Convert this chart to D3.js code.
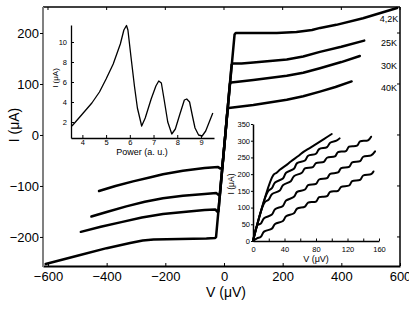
<!DOCTYPE html>
<html><head><meta charset="utf-8">
<script src="https://cdn.jsdelivr.net/npm/d3@7"></script>
<style>
body{margin:0;background:#fff;}
svg{display:block;font-family:"Liberation Sans",Arial,sans-serif;}
</style></head><body>
<svg id="c" width="409" height="315"></svg>
<script>
// ---------- Main I-V curves (V in µV, I in µA) ----------
const curve42K = [[-608,-253],[-500,-237],[-400,-222],[-320,-212],[-277,-207],[-240,-205],[-150,-204],[-60,-203],[-30,-202],[-27,-200],[4.5,0],[36,197],[40,200],[100,200],[180,200],[247,202],[300,206],[328,210],[383,216],[474,229],[590,249]];
const curve25K = [[-488,-190],[-420,-180],[-350,-171],[-280,-162],[-208,-155],[-120,-150],[-66,-147],[-30,-146],[-22,-151],[-19,-150],[4.5,0],[26,138],[30,140],[60,140],[100,142],[214,148],[270,154],[327,163],[400,173],[478,185]];
const curve30K = [[-452,-160],[-400,-151],[-333,-140],[-270,-131],[-208,-124],[-140,-119],[-66,-116],[-26,-114],[-18,-118],[-14,-115],[4.5,0],[20,100],[24,103],[40,104],[100,108],[214,116],[270,122],[327,131],[400,143],[463,155]];
const curve40K = [[-426,-110],[-370,-100],[-310,-91],[-250,-83],[-208,-77],[-140,-70],[-66,-65],[-20,-63],[-12,-66],[-6,-65],[4.5,0],[12,50],[16,53],[30,54],[100,59],[214,69],[270,76],[327,85],[380,94],[435,105]];
const mainSeries = [curve42K, curve25K, curve30K, curve40K];
const tempLabels = ["4,2K","25K","30K","40K"];
const tempLabelI = [222, 174, 130, 87];
const mainXTicks = [-600,-400,-200,0,200,400,600];
const mainYTicks = [-200,-100,0,100,200];

// ---------- Inset 1: I vs Power ----------
const powerVals = [3.56,4.0,4.4,4.72,5.0,5.3,5.6,5.75,5.86,5.92,6.05,6.2,6.32,6.5,6.65,6.9,7.1,7.22,7.33,7.45,7.6,7.77,7.92,8.1,8.3,8.4,8.52,8.65,8.75,8.9,9.05,9.2,9.35,9.5];
const powerI   = [1.6,2.8,3.9,5.0,6.3,7.8,9.8,11.2,11.65,11.2,8.5,5.5,3.4,1.6,2.4,4.3,5.6,6.1,5.9,4.2,2.0,0.8,1.3,2.7,4.2,4.3,4.0,2.5,1.4,0.7,0.6,1.1,2.0,2.9];
const inset1XTicks = [4,5,6,7,8,9];
const inset1YTicks = [2,4,6,8,10];

// ---------- Inset 2: low-voltage I-V with steps ----------
const step1 = [[0,0],[26,198],[30,204],[34,213],[44,230],[48,238],[58,255],[62,263],[72,278],[76,284],[86,299],[90,305],[100,320]];
const step2 = [[0,0],[19,148],[24,158],[28,175],[38,187],[42,204],[52,216],[56,233],[66,241],[70,255],[80,261],[84,275],[94,281],[98,294],[106,300],[110,307]];
const step3 = [[0,0],[15,116],[20,124],[24,140],[34,151],[38,167],[48,179],[52,194],[62,204],[66,217],[76,221],[80,233],[90,237],[94,249],[104,253],[108,266],[118,269],[122,282],[132,285],[136,298],[146,301],[150,312]];
const step4 = [[0,0],[6,48],[10,52],[14,68],[24,79],[28,95],[38,105],[42,121],[52,132],[56,147],[66,154],[70,167],[80,171],[84,184],[94,188],[98,201],[108,205],[112,218],[122,222],[126,235],[136,239],[140,252],[150,256],[155,268]];
const step5 = [[0,0],[5,8],[10,13],[14,28],[24,37],[28,51],[38,60],[42,74],[52,83],[56,97],[66,103],[70,115],[80,118],[84,131],[94,134],[98,147],[108,150],[112,162],[122,166],[126,179],[136,183],[140,196],[150,200],[153,208]];
const stepSeries = [step1, step2, step3, step4, step5];
const inset2XTicks = [0,20,40,60,80,100,120,140,160];
const inset2XLabels = [0,40,80,120,160];
const inset2YTicks = [0,50,100,150,200,250,300,350];

const svg = d3.select("#c");

// ===== Main plot =====
const x = d3.scaleLinear().domain([-617,600]).range([43,400]);
const y = d3.scaleLinear().domain([-257,251]).range([266,7]);

svg.append("line").attr("x1",43).attr("x2",400).attr("y1",7).attr("y2",7).attr("stroke","#000").attr("stroke-width",1.3);
svg.append("line").attr("x1",400).attr("x2",400).attr("y1",7).attr("y2",266).attr("stroke","#000").attr("stroke-width",1.5);
svg.append("g").selectAll("line").data(mainXTicks).join("line")
  .attr("x1",d=>x(d)).attr("x2",d=>x(d)).attr("y1",7).attr("y2",10).attr("stroke","#000").attr("stroke-width",1);
svg.append("g").selectAll("line").data(mainYTicks).join("line")
  .attr("x1",397).attr("x2",400).attr("y1",d=>y(d)).attr("y2",d=>y(d)).attr("stroke","#000").attr("stroke-width",1);

const xAxis = svg.append("g").attr("transform","translate(0,266)")
  .call(d3.axisBottom(x).tickValues(mainXTicks).tickSizeInner(-3).tickSizeOuter(0).tickPadding(6));
xAxis.select(".domain").attr("stroke","#000").attr("stroke-width",2);
xAxis.selectAll(".tick line").attr("stroke","#000");
xAxis.selectAll("text").attr("font-size",13).attr("fill","#000");

const yAxis = svg.append("g").attr("transform","translate(43,0)")
  .call(d3.axisLeft(y).tickValues(mainYTicks).tickSizeInner(3).tickSizeOuter(0).tickPadding(1));
yAxis.select(".domain").attr("stroke","#808080").attr("stroke-width",2).attr("d","M0,7V267");
yAxis.selectAll(".tick line").attr("stroke","#000");
yAxis.selectAll("text").attr("font-size",13).attr("fill","#000");

svg.append("text").attr("transform","translate(19,125) rotate(-90)").attr("text-anchor","middle")
  .attr("font-size",14).text("I (μA)");
svg.append("text").attr("x",226).attr("y",297).attr("text-anchor","middle").attr("font-size",14).text("V (μV)");

const mainLine = d3.line().x(d=>x(d[0])).y(d=>y(d[1]));
svg.append("g").selectAll("path").data(mainSeries).join("path")
  .attr("d",mainLine).attr("fill","none").attr("stroke","#000").attr("stroke-width",2.5)
  .attr("stroke-linejoin","round").attr("stroke-linecap","round");

svg.append("g").selectAll("text").data(tempLabels).join("text")
  .attr("x",389).attr("y",(d,i)=>y(tempLabelI[i])).attr("text-anchor","middle")
  .attr("font-size",9).text(d=>d);

// ===== Inset 1 =====
const x1 = d3.scaleLinear().domain([3.52,9.55]).range([71,214]);
const y1 = d3.scaleLinear().domain([0.4,11.7]).range([138,25]);
const ax1 = svg.append("g").attr("transform","translate(0,138)")
  .call(d3.axisBottom(x1).tickValues(inset1XTicks).tickFormat(d3.format("d")).tickSizeInner(-3).tickSizeOuter(0).tickPadding(2));
ax1.select(".domain").attr("stroke","#000").attr("stroke-width",1.3);
ax1.selectAll("text").attr("font-size",7.5).attr("fill","#000");
const ay1 = svg.append("g").attr("transform","translate(71,0)")
  .call(d3.axisLeft(y1).tickValues(inset1YTicks).tickFormat(d3.format("d")).tickSizeInner(-3).tickSizeOuter(0).tickPadding(4));
ay1.select(".domain").attr("stroke","#000").attr("stroke-width",1.3);
ay1.selectAll("text").attr("font-size",7.5).attr("fill","#000");
svg.append("text").attr("transform","translate(58,78) rotate(-90)").attr("text-anchor","middle")
  .attr("font-size",8).text("I (μA)");
svg.append("text").attr("x",142).attr("y",155).attr("text-anchor","middle").attr("font-size",9).text("Power (a. u.)");
const line1 = d3.line().x(d=>x1(d)).y((d,i)=>y1(powerI[i]));
svg.append("path").datum(powerVals).attr("d",line1).attr("fill","none").attr("stroke","#000")
  .attr("stroke-width",1.3).attr("stroke-linejoin","round");

// ===== Inset 2 =====
const x2 = d3.scaleLinear().domain([0,160]).range([253,379]);
const y2 = d3.scaleLinear().domain([0,350]).range([241,124]);
const ax2 = svg.append("g").attr("transform","translate(0,241)")
  .call(d3.axisBottom(x2).tickValues(inset2XTicks).tickSizeInner(-2.5).tickSizeOuter(0).tickPadding(6)
    .tickFormat(d=>inset2XLabels.includes(d)?d:""));
ax2.select(".domain").attr("stroke","#000").attr("stroke-width",1.5);
ax2.selectAll("text").attr("font-size",7.5).attr("fill","#000");
const ay2 = svg.append("g").attr("transform","translate(253,0)")
  .call(d3.axisLeft(y2).tickValues(inset2YTicks).tickSizeInner(2).tickSizeOuter(0).tickPadding(1));
ay2.select(".domain").attr("stroke","#000").attr("stroke-width",1.5);
ay2.selectAll("text").attr("font-size",7.5).attr("fill","#000");
svg.append("text").attr("transform","translate(234,184) rotate(-90)").attr("text-anchor","middle")
  .attr("font-size",8.5).text("I (μA)");
svg.append("text").attr("x",316).attr("y",262).attr("text-anchor","middle").attr("font-size",9).text("V (μV)");
const line2 = d3.line().x(d=>x2(d[0])).y(d=>y2(d[1])).curve(d3.curveCatmullRom.alpha(0.5));
svg.append("g").selectAll("path").data(stepSeries).join("path")
  .attr("d",line2).attr("fill","none").attr("stroke","#000").attr("stroke-width",2)
  .attr("stroke-linejoin","round").attr("stroke-linecap","round");
</script>
</body></html>
